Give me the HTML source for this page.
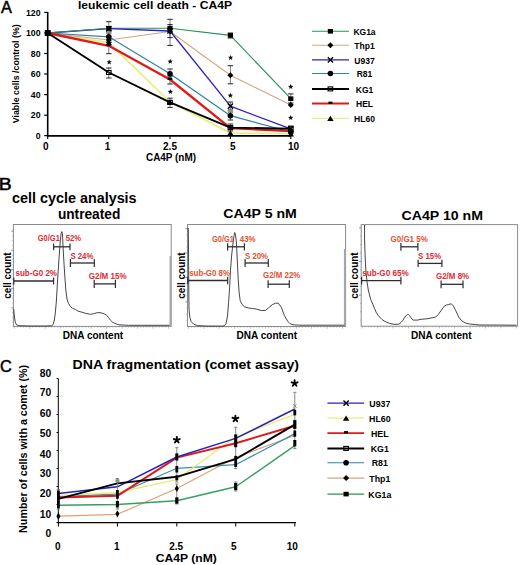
<!DOCTYPE html><html><head><meta charset="utf-8"><style>html,body{margin:0;padding:0;background:#fff;width:520px;height:565px;overflow:hidden}svg{display:block}text{font-family:"Liberation Sans",sans-serif}</style></head><body>
<svg width="520" height="565" viewBox="0 0 520 565">
<rect width="520" height="565" fill="#fff"/>
<text x="1.1" y="12.6" font-size="16.3" text-anchor="start" fill="#000" font-weight="normal" stroke="#000" stroke-width="0.5">A</text>
<text x="78" y="9" font-size="11" text-anchor="start" fill="#000" font-weight="bold" textLength="154" lengthAdjust="spacingAndGlyphs" >leukemic cell death - CA4P</text>
<line x1="47.7" y1="12" x2="47.7" y2="136.8" stroke="#000" stroke-width="1.6" />
<line x1="47" y1="135.9" x2="291" y2="135.9" stroke="#000" stroke-width="1.6" />
<line x1="44.2" y1="12.4" x2="47.7" y2="12.4" stroke="#000" stroke-width="1.2" />
<text x="40.5" y="15.5" font-size="9.8" text-anchor="end" fill="#000" font-weight="bold" textLength="14.55" lengthAdjust="spacingAndGlyphs" >120</text>
<line x1="44.2" y1="33" x2="47.7" y2="33" stroke="#000" stroke-width="1.2" />
<text x="40.5" y="36.1" font-size="9.8" text-anchor="end" fill="#000" font-weight="bold" textLength="14.55" lengthAdjust="spacingAndGlyphs" >100</text>
<line x1="44.2" y1="53.5" x2="47.7" y2="53.5" stroke="#000" stroke-width="1.2" />
<text x="40.5" y="56.6" font-size="9.8" text-anchor="end" fill="#000" font-weight="bold" textLength="9.7" lengthAdjust="spacingAndGlyphs" >80</text>
<line x1="44.2" y1="74" x2="47.7" y2="74" stroke="#000" stroke-width="1.2" />
<text x="40.5" y="77.1" font-size="9.8" text-anchor="end" fill="#000" font-weight="bold" textLength="9.7" lengthAdjust="spacingAndGlyphs" >60</text>
<line x1="44.2" y1="94.6" x2="47.7" y2="94.6" stroke="#000" stroke-width="1.2" />
<text x="40.5" y="97.69999999999999" font-size="9.8" text-anchor="end" fill="#000" font-weight="bold" textLength="9.7" lengthAdjust="spacingAndGlyphs" >40</text>
<line x1="44.2" y1="115.2" x2="47.7" y2="115.2" stroke="#000" stroke-width="1.2" />
<text x="40.5" y="118.3" font-size="9.8" text-anchor="end" fill="#000" font-weight="bold" textLength="9.7" lengthAdjust="spacingAndGlyphs" >20</text>
<line x1="44.2" y1="135.6" x2="47.7" y2="135.6" stroke="#000" stroke-width="1.2" />
<text x="40.5" y="138.7" font-size="9.8" text-anchor="end" fill="#000" font-weight="bold" textLength="4.85" lengthAdjust="spacingAndGlyphs" >0</text>
<line x1="47.7" y1="136.2" x2="47.7" y2="139" stroke="#000" stroke-width="1.1" />
<line x1="108.8" y1="136.2" x2="108.8" y2="139" stroke="#000" stroke-width="1.1" />
<line x1="170.0" y1="136.2" x2="170.0" y2="139" stroke="#000" stroke-width="1.1" />
<line x1="230.4" y1="136.2" x2="230.4" y2="139" stroke="#000" stroke-width="1.1" />
<line x1="290.8" y1="136.2" x2="290.8" y2="139" stroke="#000" stroke-width="1.1" />
<text x="45.7" y="149.6" font-size="10" text-anchor="middle" fill="#000" font-weight="bold" >0</text>
<text x="107.6" y="149.6" font-size="10" text-anchor="middle" fill="#000" font-weight="bold" >1</text>
<text x="170" y="149.6" font-size="10" text-anchor="middle" fill="#000" font-weight="bold" >2.5</text>
<text x="232.7" y="149.6" font-size="10" text-anchor="middle" fill="#000" font-weight="bold" >5</text>
<text x="293.5" y="149.6" font-size="10" text-anchor="middle" fill="#000" font-weight="bold" >10</text>
<text x="171" y="160.5" font-size="10" text-anchor="middle" fill="#000" font-weight="bold" textLength="50" lengthAdjust="spacingAndGlyphs" >CA4P (nM)</text>
<text transform="translate(18.8,73.8) rotate(-90)" x="0" y="0" font-size="8.3" text-anchor="middle" fill="#000" font-weight="bold" textLength="99" lengthAdjust="spacingAndGlyphs">Viable cells /control (%)</text>
<polyline points="47.7,33.0 108.8,42.6 170.0,102.0 230.4,133.0 290.8,133.8" fill="none" stroke="#e8ee78" stroke-width="1.6" stroke-linejoin="round"/>
<polyline points="47.7,33.0 108.8,40.0 170.0,31.5 230.4,75.3 290.8,105.0" fill="none" stroke="#d2a682" stroke-width="1.1" stroke-linejoin="round"/>
<polyline points="47.7,33.0 108.8,28.6" fill="none" stroke="#2a22b8" stroke-width="1.3" stroke-linejoin="round"/>
<polyline points="47.7,33.0 108.8,28.3 170.0,28.2 230.4,35.4 290.8,98.7" fill="none" stroke="#2a8f58" stroke-width="1.1" stroke-linejoin="round"/>
<polyline points="108.8,28.6 170.0,31.0 230.4,106.2 290.8,128.9" fill="none" stroke="#2a22b8" stroke-width="1.3" stroke-linejoin="round"/>
<polyline points="47.7,33.0 108.8,36.8 170.0,73.8 230.4,115.7 290.8,132.0" fill="none" stroke="#2f82a0" stroke-width="1.2" stroke-linejoin="round"/>
<polyline points="47.7,33.0 108.8,45.8 170.0,79.5 230.4,128.2 290.8,131.2" fill="none" stroke="#e01a1a" stroke-width="2.3" stroke-linejoin="round"/>
<polyline points="47.7,33.0 108.8,72.5 170.0,102.4 230.4,127.6 290.8,128.8" fill="none" stroke="#000" stroke-width="1.9" stroke-linejoin="round"/>
<line x1="47.7" y1="30.5" x2="47.7" y2="35.5" stroke="#555" stroke-width="0.8" />
<line x1="45.0" y1="30.5" x2="50.400000000000006" y2="30.5" stroke="#222" stroke-width="1.0" />
<line x1="45.0" y1="35.5" x2="50.400000000000006" y2="35.5" stroke="#222" stroke-width="1.0" />
<line x1="108.8" y1="21.7" x2="108.8" y2="31" stroke="#555" stroke-width="0.8" />
<line x1="106.1" y1="21.7" x2="111.5" y2="21.7" stroke="#222" stroke-width="1.0" />
<line x1="106.1" y1="31" x2="111.5" y2="31" stroke="#222" stroke-width="1.0" />
<line x1="108.8" y1="33" x2="108.8" y2="42" stroke="#555" stroke-width="0.8" />
<line x1="106.1" y1="33" x2="111.5" y2="33" stroke="#222" stroke-width="1.0" />
<line x1="106.1" y1="42" x2="111.5" y2="42" stroke="#222" stroke-width="1.0" />
<line x1="108.8" y1="42.5" x2="108.8" y2="53.7" stroke="#555" stroke-width="0.8" />
<line x1="106.1" y1="42.5" x2="111.5" y2="42.5" stroke="#222" stroke-width="1.0" />
<line x1="106.1" y1="53.7" x2="111.5" y2="53.7" stroke="#222" stroke-width="1.0" />
<line x1="108.8" y1="68" x2="108.8" y2="78" stroke="#555" stroke-width="0.8" />
<line x1="106.1" y1="68" x2="111.5" y2="68" stroke="#222" stroke-width="1.0" />
<line x1="106.1" y1="78" x2="111.5" y2="78" stroke="#222" stroke-width="1.0" />
<line x1="170.0" y1="19.3" x2="170.0" y2="45.4" stroke="#555" stroke-width="0.8" />
<line x1="167.3" y1="19.3" x2="172.7" y2="19.3" stroke="#222" stroke-width="1.0" />
<line x1="167.3" y1="45.4" x2="172.7" y2="45.4" stroke="#222" stroke-width="1.0" />
<line x1="170.0" y1="24.6" x2="170.0" y2="37.6" stroke="#555" stroke-width="0.8" />
<line x1="167.3" y1="24.6" x2="172.7" y2="24.6" stroke="#222" stroke-width="1.0" />
<line x1="167.3" y1="37.6" x2="172.7" y2="37.6" stroke="#222" stroke-width="1.0" />
<line x1="170.0" y1="69" x2="170.0" y2="79.3" stroke="#555" stroke-width="0.8" />
<line x1="167.3" y1="69" x2="172.7" y2="69" stroke="#222" stroke-width="1.0" />
<line x1="167.3" y1="79.3" x2="172.7" y2="79.3" stroke="#222" stroke-width="1.0" />
<line x1="170.0" y1="76" x2="170.0" y2="84" stroke="#555" stroke-width="0.8" />
<line x1="167.3" y1="76" x2="172.7" y2="76" stroke="#222" stroke-width="1.0" />
<line x1="167.3" y1="84" x2="172.7" y2="84" stroke="#222" stroke-width="1.0" />
<line x1="170.0" y1="98.2" x2="170.0" y2="107.4" stroke="#555" stroke-width="0.8" />
<line x1="167.3" y1="98.2" x2="172.7" y2="98.2" stroke="#222" stroke-width="1.0" />
<line x1="167.3" y1="107.4" x2="172.7" y2="107.4" stroke="#222" stroke-width="1.0" />
<line x1="230.4" y1="33" x2="230.4" y2="38" stroke="#555" stroke-width="0.8" />
<line x1="227.70000000000002" y1="33" x2="233.1" y2="33" stroke="#222" stroke-width="1.0" />
<line x1="227.70000000000002" y1="38" x2="233.1" y2="38" stroke="#222" stroke-width="1.0" />
<line x1="230.4" y1="65.7" x2="230.4" y2="83.8" stroke="#555" stroke-width="0.8" />
<line x1="227.70000000000002" y1="65.7" x2="233.1" y2="65.7" stroke="#222" stroke-width="1.0" />
<line x1="227.70000000000002" y1="83.8" x2="233.1" y2="83.8" stroke="#222" stroke-width="1.0" />
<line x1="230.4" y1="102" x2="230.4" y2="110" stroke="#555" stroke-width="0.8" />
<line x1="227.70000000000002" y1="102" x2="233.1" y2="102" stroke="#222" stroke-width="1.0" />
<line x1="227.70000000000002" y1="110" x2="233.1" y2="110" stroke="#222" stroke-width="1.0" />
<line x1="230.4" y1="112" x2="230.4" y2="120" stroke="#555" stroke-width="0.8" />
<line x1="227.70000000000002" y1="112" x2="233.1" y2="112" stroke="#222" stroke-width="1.0" />
<line x1="227.70000000000002" y1="120" x2="233.1" y2="120" stroke="#222" stroke-width="1.0" />
<line x1="230.4" y1="124" x2="230.4" y2="131" stroke="#555" stroke-width="0.8" />
<line x1="227.70000000000002" y1="124" x2="233.1" y2="124" stroke="#222" stroke-width="1.0" />
<line x1="227.70000000000002" y1="131" x2="233.1" y2="131" stroke="#222" stroke-width="1.0" />
<line x1="290.8" y1="93.9" x2="290.8" y2="103" stroke="#555" stroke-width="0.8" />
<line x1="288.1" y1="93.9" x2="293.5" y2="93.9" stroke="#222" stroke-width="1.0" />
<line x1="288.1" y1="103" x2="293.5" y2="103" stroke="#222" stroke-width="1.0" />
<line x1="290.8" y1="126" x2="290.8" y2="133" stroke="#555" stroke-width="0.8" />
<line x1="288.1" y1="126" x2="293.5" y2="126" stroke="#222" stroke-width="1.0" />
<line x1="288.1" y1="133" x2="293.5" y2="133" stroke="#222" stroke-width="1.0" />
<rect x="45.1" y="30.7" width="5.2" height="4.6" fill="#000"/>
<rect x="106.2" y="26.0" width="5.2" height="4.6" fill="#000"/>
<rect x="167.4" y="25.9" width="5.2" height="4.6" fill="#000"/>
<rect x="227.8" y="33.1" width="5.2" height="4.6" fill="#000"/>
<rect x="288.2" y="96.4" width="5.2" height="4.6" fill="#000"/>
<path d="M44.7,33.0 L47.7,30.0 L50.7,33.0 L47.7,36.0Z" fill="#000"/>
<path d="M105.8,40.0 L108.8,37.0 L111.8,40.0 L108.8,43.0Z" fill="#000"/>
<path d="M167.0,31.5 L170.0,28.5 L173.0,31.5 L170.0,34.5Z" fill="#000"/>
<path d="M227.4,75.3 L230.4,72.3 L233.4,75.3 L230.4,78.3Z" fill="#000"/>
<path d="M287.8,105.0 L290.8,102.0 L293.8,105.0 L290.8,108.0Z" fill="#000"/>
<path d="M45.1,30.4 L50.3,35.6 M50.3,30.4 L45.1,35.6" stroke="#000" stroke-width="1.4" fill="none"/>
<path d="M106.2,26.0 L111.4,31.2 M111.4,26.0 L106.2,31.2" stroke="#000" stroke-width="1.4" fill="none"/>
<path d="M167.4,28.4 L172.6,33.6 M172.6,28.4 L167.4,33.6" stroke="#000" stroke-width="1.4" fill="none"/>
<path d="M227.8,103.6 L233.0,108.8 M233.0,103.6 L227.8,108.8" stroke="#000" stroke-width="1.4" fill="none"/>
<path d="M288.2,126.3 L293.4,131.5 M293.4,126.3 L288.2,131.5" stroke="#000" stroke-width="1.4" fill="none"/>
<circle cx="47.7" cy="33.0" r="2.8" fill="#000"/>
<circle cx="108.8" cy="36.8" r="2.8" fill="#000"/>
<circle cx="170.0" cy="73.8" r="2.8" fill="#000"/>
<circle cx="230.4" cy="115.7" r="2.8" fill="#000"/>
<circle cx="290.8" cy="132.0" r="2.8" fill="#000"/>
<rect x="45.4" y="31.0" width="4.6" height="4.0" fill="none" stroke="#000" stroke-width="1.1"/>
<rect x="106.5" y="70.5" width="4.6" height="4.0" fill="none" stroke="#000" stroke-width="1.1"/>
<rect x="167.7" y="100.4" width="4.6" height="4.0" fill="none" stroke="#000" stroke-width="1.1"/>
<rect x="228.1" y="125.6" width="4.6" height="4.0" fill="none" stroke="#000" stroke-width="1.1"/>
<rect x="288.5" y="126.8" width="4.6" height="4.0" fill="none" stroke="#000" stroke-width="1.1"/>
<rect x="45.7" y="31.0" width="4.0" height="2.4" fill="#000"/>
<rect x="106.8" y="43.8" width="4.0" height="2.4" fill="#000"/>
<rect x="168.0" y="77.5" width="4.0" height="2.4" fill="#000"/>
<rect x="228.4" y="126.2" width="4.0" height="2.4" fill="#000"/>
<rect x="288.8" y="129.2" width="4.0" height="2.4" fill="#000"/>
<path d="M44.5,35.6 L47.7,30.4 L50.9,35.6Z" fill="#000"/>
<path d="M105.6,45.2 L108.8,40.0 L112.0,45.2Z" fill="#000"/>
<path d="M166.8,104.6 L170.0,99.4 L173.2,104.6Z" fill="#000"/>
<path d="M227.2,135.6 L230.4,130.4 L233.6,135.6Z" fill="#000"/>
<path d="M287.6,136.4 L290.8,131.2 L294.0,136.4Z" fill="#000"/>
<polygon points="109.20,59.40 109.94,61.18 111.86,61.33 110.40,62.59 110.85,64.47 109.20,63.46 107.55,64.47 108.00,62.59 106.54,61.33 108.46,61.18" fill="#111"/>
<polygon points="170.20,58.80 170.94,60.58 172.86,60.73 171.40,61.99 171.85,63.87 170.20,62.86 168.55,63.87 169.00,61.99 167.54,60.73 169.46,60.58" fill="#111"/>
<polygon points="170.40,89.00 171.14,90.78 173.06,90.93 171.60,92.19 172.05,94.07 170.40,93.06 168.75,94.07 169.20,92.19 167.74,90.93 169.66,90.78" fill="#111"/>
<polygon points="230.60,54.90 231.34,56.68 233.26,56.83 231.80,58.09 232.25,59.97 230.60,58.96 228.95,59.97 229.40,58.09 227.94,56.83 229.86,56.68" fill="#111"/>
<polygon points="230.40,92.70 231.14,94.48 233.06,94.63 231.60,95.89 232.05,97.77 230.40,96.76 228.75,97.77 229.20,95.89 227.74,94.63 229.66,94.48" fill="#111"/>
<polygon points="290.70,84.00 291.44,85.78 293.36,85.93 291.90,87.19 292.35,89.07 290.70,88.06 289.05,89.07 289.50,87.19 288.04,85.93 289.96,85.78" fill="#111"/>
<polygon points="290.70,115.00 291.44,116.78 293.36,116.93 291.90,118.19 292.35,120.07 290.70,119.06 289.05,120.07 289.50,118.19 288.04,116.93 289.96,116.78" fill="#111"/>
<line x1="312" y1="31.3" x2="349" y2="31.3" stroke="#2a8f58" stroke-width="1.1" />
<rect x="327.8" y="29.0" width="5.2" height="4.6" fill="#000"/>
<text x="364.5" y="35.0" font-size="8.5" text-anchor="middle" fill="#000" font-weight="bold" >KG1a</text>
<line x1="312" y1="45.3" x2="349" y2="45.3" stroke="#d2a682" stroke-width="1.1" />
<path d="M327.4,45.3 L330.4,42.3 L333.4,45.3 L330.4,48.3Z" fill="#000"/>
<text x="364.5" y="49.0" font-size="8.5" text-anchor="middle" fill="#000" font-weight="bold" >Thp1</text>
<line x1="312" y1="59.9" x2="349" y2="59.9" stroke="#2a22b8" stroke-width="1.3" />
<path d="M327.8,57.3 L333.0,62.5 M333.0,57.3 L327.8,62.5" stroke="#000" stroke-width="1.4" fill="none"/>
<text x="364.5" y="63.6" font-size="8.5" text-anchor="middle" fill="#000" font-weight="bold" >U937</text>
<line x1="312" y1="73.5" x2="349" y2="73.5" stroke="#2f82a0" stroke-width="1.1" />
<circle cx="330.4" cy="73.5" r="2.8" fill="#000"/>
<text x="364.5" y="77.2" font-size="8.5" text-anchor="middle" fill="#000" font-weight="bold" >R81</text>
<line x1="312" y1="88.9" x2="349" y2="88.9" stroke="#000" stroke-width="2.0" />
<rect x="328.1" y="86.9" width="4.6" height="4.0" fill="none" stroke="#000" stroke-width="1.1"/>
<text x="364.5" y="92.60000000000001" font-size="8.5" text-anchor="middle" fill="#000" font-weight="bold" >KG1</text>
<line x1="312" y1="103.6" x2="349" y2="103.6" stroke="#e01a1a" stroke-width="2.0" />
<rect x="328.4" y="101.6" width="4.0" height="2.4" fill="#000"/>
<text x="364.5" y="107.3" font-size="8.5" text-anchor="middle" fill="#000" font-weight="bold" >HEL</text>
<line x1="312" y1="118.4" x2="349" y2="118.4" stroke="#e8ee78" stroke-width="1.2" />
<path d="M327.2,121.0 L330.4,115.8 L333.6,121.0Z" fill="#000"/>
<text x="364.5" y="122.10000000000001" font-size="8.5" text-anchor="middle" fill="#000" font-weight="bold" >HL60</text>
<text x="-1.2" y="189.8" font-size="16.3" text-anchor="start" fill="#000" font-weight="normal" textLength="12.9" lengthAdjust="spacingAndGlyphs" stroke="#000" stroke-width="0.5">B</text>
<text x="12.1" y="203.3" font-size="14" text-anchor="start" fill="#000" font-weight="bold" textLength="124.5" lengthAdjust="spacingAndGlyphs" >cell cycle analysis</text>
<text x="57.9" y="218.9" font-size="14" text-anchor="start" fill="#000" font-weight="bold" textLength="62.4" lengthAdjust="spacingAndGlyphs" >untreated</text>
<text x="223.3" y="218.2" font-size="13.3" text-anchor="start" fill="#000" font-weight="bold" textLength="73.5" lengthAdjust="spacingAndGlyphs" >CA4P 5 nM</text>
<text x="401.5" y="220.2" font-size="12.8" text-anchor="start" fill="#000" font-weight="bold" textLength="81.5" lengthAdjust="spacingAndGlyphs" >CA4P 10 nM</text>
<rect x="13.4" y="224.5" width="157.79999999999998" height="101.89999999999998" fill="none" stroke="#8a8a8a" stroke-width="1"/>
<line x1="170.39999999999998" y1="256" x2="170.39999999999998" y2="326.4" stroke="#a8a8a8" stroke-width="1.8" />
<line x1="11.2" y1="231.1" x2="13.4" y2="231.1" stroke="#777" stroke-width="0.8" />
<line x1="12.4" y1="235.9" x2="13.4" y2="235.9" stroke="#999" stroke-width="0.8" />
<line x1="12.4" y1="240.70000000000002" x2="13.4" y2="240.70000000000002" stroke="#999" stroke-width="0.8" />
<line x1="12.4" y1="245.50000000000003" x2="13.4" y2="245.50000000000003" stroke="#999" stroke-width="0.8" />
<line x1="11.2" y1="250.30000000000004" x2="13.4" y2="250.30000000000004" stroke="#777" stroke-width="0.8" />
<line x1="12.4" y1="255.10000000000005" x2="13.4" y2="255.10000000000005" stroke="#999" stroke-width="0.8" />
<line x1="12.4" y1="259.90000000000003" x2="13.4" y2="259.90000000000003" stroke="#999" stroke-width="0.8" />
<line x1="12.4" y1="264.70000000000005" x2="13.4" y2="264.70000000000005" stroke="#999" stroke-width="0.8" />
<line x1="11.2" y1="269.50000000000006" x2="13.4" y2="269.50000000000006" stroke="#777" stroke-width="0.8" />
<line x1="12.4" y1="274.30000000000007" x2="13.4" y2="274.30000000000007" stroke="#999" stroke-width="0.8" />
<line x1="12.4" y1="279.1000000000001" x2="13.4" y2="279.1000000000001" stroke="#999" stroke-width="0.8" />
<line x1="12.4" y1="283.9000000000001" x2="13.4" y2="283.9000000000001" stroke="#999" stroke-width="0.8" />
<line x1="11.2" y1="288.7000000000001" x2="13.4" y2="288.7000000000001" stroke="#777" stroke-width="0.8" />
<line x1="12.4" y1="293.5000000000001" x2="13.4" y2="293.5000000000001" stroke="#999" stroke-width="0.8" />
<line x1="12.4" y1="298.3000000000001" x2="13.4" y2="298.3000000000001" stroke="#999" stroke-width="0.8" />
<line x1="12.4" y1="303.10000000000014" x2="13.4" y2="303.10000000000014" stroke="#999" stroke-width="0.8" />
<line x1="11.2" y1="307.90000000000015" x2="13.4" y2="307.90000000000015" stroke="#777" stroke-width="0.8" />
<line x1="12.4" y1="312.70000000000016" x2="13.4" y2="312.70000000000016" stroke="#999" stroke-width="0.8" />
<line x1="12.4" y1="317.50000000000017" x2="13.4" y2="317.50000000000017" stroke="#999" stroke-width="0.8" />
<line x1="12.4" y1="322.3000000000002" x2="13.4" y2="322.3000000000002" stroke="#999" stroke-width="0.8" />
<line x1="14.4" y1="326.4" x2="14.4" y2="328.59999999999997" stroke="#999" stroke-width="0.7" />
<line x1="17.48" y1="326.4" x2="17.48" y2="327.59999999999997" stroke="#999" stroke-width="0.7" />
<line x1="20.560000000000002" y1="326.4" x2="20.560000000000002" y2="327.59999999999997" stroke="#999" stroke-width="0.7" />
<line x1="23.64" y1="326.4" x2="23.64" y2="327.59999999999997" stroke="#999" stroke-width="0.7" />
<line x1="26.72" y1="326.4" x2="26.72" y2="327.59999999999997" stroke="#999" stroke-width="0.7" />
<line x1="29.799999999999997" y1="326.4" x2="29.799999999999997" y2="328.59999999999997" stroke="#999" stroke-width="0.7" />
<line x1="32.879999999999995" y1="326.4" x2="32.879999999999995" y2="327.59999999999997" stroke="#999" stroke-width="0.7" />
<line x1="35.959999999999994" y1="326.4" x2="35.959999999999994" y2="327.59999999999997" stroke="#999" stroke-width="0.7" />
<line x1="39.03999999999999" y1="326.4" x2="39.03999999999999" y2="327.59999999999997" stroke="#999" stroke-width="0.7" />
<line x1="42.11999999999999" y1="326.4" x2="42.11999999999999" y2="327.59999999999997" stroke="#999" stroke-width="0.7" />
<line x1="45.19999999999999" y1="326.4" x2="45.19999999999999" y2="328.59999999999997" stroke="#999" stroke-width="0.7" />
<line x1="48.27999999999999" y1="326.4" x2="48.27999999999999" y2="327.59999999999997" stroke="#999" stroke-width="0.7" />
<line x1="51.359999999999985" y1="326.4" x2="51.359999999999985" y2="327.59999999999997" stroke="#999" stroke-width="0.7" />
<line x1="54.43999999999998" y1="326.4" x2="54.43999999999998" y2="327.59999999999997" stroke="#999" stroke-width="0.7" />
<line x1="57.51999999999998" y1="326.4" x2="57.51999999999998" y2="327.59999999999997" stroke="#999" stroke-width="0.7" />
<line x1="60.59999999999998" y1="326.4" x2="60.59999999999998" y2="328.59999999999997" stroke="#999" stroke-width="0.7" />
<line x1="63.67999999999998" y1="326.4" x2="63.67999999999998" y2="327.59999999999997" stroke="#999" stroke-width="0.7" />
<line x1="66.75999999999998" y1="326.4" x2="66.75999999999998" y2="327.59999999999997" stroke="#999" stroke-width="0.7" />
<line x1="69.83999999999997" y1="326.4" x2="69.83999999999997" y2="327.59999999999997" stroke="#999" stroke-width="0.7" />
<line x1="72.91999999999997" y1="326.4" x2="72.91999999999997" y2="327.59999999999997" stroke="#999" stroke-width="0.7" />
<line x1="75.99999999999997" y1="326.4" x2="75.99999999999997" y2="328.59999999999997" stroke="#999" stroke-width="0.7" />
<line x1="79.07999999999997" y1="326.4" x2="79.07999999999997" y2="327.59999999999997" stroke="#999" stroke-width="0.7" />
<line x1="82.15999999999997" y1="326.4" x2="82.15999999999997" y2="327.59999999999997" stroke="#999" stroke-width="0.7" />
<line x1="85.23999999999997" y1="326.4" x2="85.23999999999997" y2="327.59999999999997" stroke="#999" stroke-width="0.7" />
<line x1="88.31999999999996" y1="326.4" x2="88.31999999999996" y2="327.59999999999997" stroke="#999" stroke-width="0.7" />
<line x1="91.39999999999996" y1="326.4" x2="91.39999999999996" y2="328.59999999999997" stroke="#999" stroke-width="0.7" />
<line x1="94.47999999999996" y1="326.4" x2="94.47999999999996" y2="327.59999999999997" stroke="#999" stroke-width="0.7" />
<line x1="97.55999999999996" y1="326.4" x2="97.55999999999996" y2="327.59999999999997" stroke="#999" stroke-width="0.7" />
<line x1="100.63999999999996" y1="326.4" x2="100.63999999999996" y2="327.59999999999997" stroke="#999" stroke-width="0.7" />
<line x1="103.71999999999996" y1="326.4" x2="103.71999999999996" y2="327.59999999999997" stroke="#999" stroke-width="0.7" />
<line x1="106.79999999999995" y1="326.4" x2="106.79999999999995" y2="328.59999999999997" stroke="#999" stroke-width="0.7" />
<line x1="109.87999999999995" y1="326.4" x2="109.87999999999995" y2="327.59999999999997" stroke="#999" stroke-width="0.7" />
<line x1="112.95999999999995" y1="326.4" x2="112.95999999999995" y2="327.59999999999997" stroke="#999" stroke-width="0.7" />
<line x1="116.03999999999995" y1="326.4" x2="116.03999999999995" y2="327.59999999999997" stroke="#999" stroke-width="0.7" />
<line x1="119.11999999999995" y1="326.4" x2="119.11999999999995" y2="327.59999999999997" stroke="#999" stroke-width="0.7" />
<line x1="122.19999999999995" y1="326.4" x2="122.19999999999995" y2="328.59999999999997" stroke="#999" stroke-width="0.7" />
<line x1="125.27999999999994" y1="326.4" x2="125.27999999999994" y2="327.59999999999997" stroke="#999" stroke-width="0.7" />
<line x1="128.35999999999996" y1="326.4" x2="128.35999999999996" y2="327.59999999999997" stroke="#999" stroke-width="0.7" />
<line x1="131.43999999999997" y1="326.4" x2="131.43999999999997" y2="327.59999999999997" stroke="#999" stroke-width="0.7" />
<line x1="134.51999999999998" y1="326.4" x2="134.51999999999998" y2="327.59999999999997" stroke="#999" stroke-width="0.7" />
<line x1="137.6" y1="326.4" x2="137.6" y2="328.59999999999997" stroke="#999" stroke-width="0.7" />
<line x1="140.68" y1="326.4" x2="140.68" y2="327.59999999999997" stroke="#999" stroke-width="0.7" />
<line x1="143.76000000000002" y1="326.4" x2="143.76000000000002" y2="327.59999999999997" stroke="#999" stroke-width="0.7" />
<line x1="146.84000000000003" y1="326.4" x2="146.84000000000003" y2="327.59999999999997" stroke="#999" stroke-width="0.7" />
<line x1="149.92000000000004" y1="326.4" x2="149.92000000000004" y2="327.59999999999997" stroke="#999" stroke-width="0.7" />
<line x1="153.00000000000006" y1="326.4" x2="153.00000000000006" y2="328.59999999999997" stroke="#999" stroke-width="0.7" />
<line x1="156.08000000000007" y1="326.4" x2="156.08000000000007" y2="327.59999999999997" stroke="#999" stroke-width="0.7" />
<line x1="159.16000000000008" y1="326.4" x2="159.16000000000008" y2="327.59999999999997" stroke="#999" stroke-width="0.7" />
<line x1="162.2400000000001" y1="326.4" x2="162.2400000000001" y2="327.59999999999997" stroke="#999" stroke-width="0.7" />
<line x1="165.3200000000001" y1="326.4" x2="165.3200000000001" y2="327.59999999999997" stroke="#999" stroke-width="0.7" />
<line x1="168.40000000000012" y1="326.4" x2="168.40000000000012" y2="328.59999999999997" stroke="#999" stroke-width="0.7" />
<path d="M13.7,309.0 L14.3,316.0 L15.2,322.0 L16.5,324.8 L19.0,325.7 L30.0,326.0 L45.0,326.0 L51.5,325.8 L53.0,324.8 L54.3,320.0 L55.2,314.0 L56.3,302.0 L57.6,280.0 L58.9,260.0 L60.2,242.0 L61.1,233.5 L61.8,231.6 L62.5,234.0 L63.2,250.0 L64.4,270.0 L65.8,290.0 L67.0,299.0 L68.5,303.5 L70.4,306.5 L72.5,308.3 L75.6,309.6 L78.2,311.2 L81.9,312.2 L85.9,313.4 L90.4,314.3 L93.5,313.8 L96.7,312.8 L100.0,312.6 L102.0,313.2 L104.5,314.0 L106.3,314.9 L108.5,317.5 L110.5,320.2 L112.7,322.3 L114.7,323.4 L118.9,324.8 L128.5,325.3 L169.5,325.3" fill="none" stroke="#3c3c3c" stroke-width="0.95" stroke-linejoin="round"/>
<text x="37.8" y="241.3" font-size="8.6" text-anchor="start" fill="#dc2a36" font-weight="bold" textLength="22.0" lengthAdjust="spacingAndGlyphs" >G0/G1</text>
<text x="65.8" y="241.3" font-size="8.6" text-anchor="start" fill="#dc2a36" font-weight="bold" textLength="15.4" lengthAdjust="spacingAndGlyphs" >52%</text>
<line x1="53.6" y1="246.8" x2="70.0" y2="246.8" stroke="#2e2e2e" stroke-width="1.3" />
<line x1="53.6" y1="243.4" x2="53.6" y2="250.20000000000002" stroke="#2e2e2e" stroke-width="1.2" />
<line x1="70.0" y1="243.4" x2="70.0" y2="250.20000000000002" stroke="#2e2e2e" stroke-width="1.2" />
<text x="70.4" y="258.7" font-size="8.6" text-anchor="start" fill="#dc2a36" font-weight="bold" textLength="22.9" lengthAdjust="spacingAndGlyphs" >S 24%</text>
<line x1="70.4" y1="263.0" x2="94.3" y2="263.0" stroke="#2e2e2e" stroke-width="1.3" />
<line x1="70.4" y1="259.0" x2="70.4" y2="267.0" stroke="#2e2e2e" stroke-width="1.2" />
<line x1="94.3" y1="259.0" x2="94.3" y2="267.0" stroke="#2e2e2e" stroke-width="1.2" />
<text x="15.5" y="275.8" font-size="8.6" text-anchor="start" fill="#dc2a36" font-weight="bold" textLength="41.5" lengthAdjust="spacingAndGlyphs" >sub-G0 2%</text>
<line x1="13.8" y1="281.0" x2="53.6" y2="281.0" stroke="#2e2e2e" stroke-width="1.3" />
<line x1="13.8" y1="277.4" x2="13.8" y2="284.6" stroke="#2e2e2e" stroke-width="1.2" />
<line x1="53.6" y1="277.4" x2="53.6" y2="284.6" stroke="#2e2e2e" stroke-width="1.2" />
<text x="88.7" y="278.5" font-size="8.6" text-anchor="start" fill="#dc2a36" font-weight="bold" textLength="37.9" lengthAdjust="spacingAndGlyphs" >G2/M 15%</text>
<line x1="94.2" y1="283.9" x2="115.4" y2="283.9" stroke="#2e2e2e" stroke-width="1.3" />
<line x1="94.2" y1="279.79999999999995" x2="94.2" y2="288.0" stroke="#2e2e2e" stroke-width="1.2" />
<line x1="115.4" y1="279.79999999999995" x2="115.4" y2="288.0" stroke="#2e2e2e" stroke-width="1.2" />
<rect x="187.5" y="224.5" width="158.10000000000002" height="102.0" fill="none" stroke="#8a8a8a" stroke-width="1"/>
<line x1="344.8" y1="249" x2="344.8" y2="326.5" stroke="#a8a8a8" stroke-width="1.8" />
<line x1="185.3" y1="228.7" x2="187.5" y2="228.7" stroke="#777" stroke-width="0.8" />
<line x1="186.5" y1="234.79999999999998" x2="187.5" y2="234.79999999999998" stroke="#999" stroke-width="0.8" />
<line x1="186.5" y1="240.89999999999998" x2="187.5" y2="240.89999999999998" stroke="#999" stroke-width="0.8" />
<line x1="186.5" y1="246.99999999999997" x2="187.5" y2="246.99999999999997" stroke="#999" stroke-width="0.8" />
<line x1="185.3" y1="253.09999999999997" x2="187.5" y2="253.09999999999997" stroke="#777" stroke-width="0.8" />
<line x1="186.5" y1="259.2" x2="187.5" y2="259.2" stroke="#999" stroke-width="0.8" />
<line x1="186.5" y1="265.3" x2="187.5" y2="265.3" stroke="#999" stroke-width="0.8" />
<line x1="186.5" y1="271.40000000000003" x2="187.5" y2="271.40000000000003" stroke="#999" stroke-width="0.8" />
<line x1="185.3" y1="277.50000000000006" x2="187.5" y2="277.50000000000006" stroke="#777" stroke-width="0.8" />
<line x1="186.5" y1="283.6000000000001" x2="187.5" y2="283.6000000000001" stroke="#999" stroke-width="0.8" />
<line x1="186.5" y1="289.7000000000001" x2="187.5" y2="289.7000000000001" stroke="#999" stroke-width="0.8" />
<line x1="186.5" y1="295.8000000000001" x2="187.5" y2="295.8000000000001" stroke="#999" stroke-width="0.8" />
<line x1="185.3" y1="301.90000000000015" x2="187.5" y2="301.90000000000015" stroke="#777" stroke-width="0.8" />
<line x1="186.5" y1="308.00000000000017" x2="187.5" y2="308.00000000000017" stroke="#999" stroke-width="0.8" />
<line x1="186.5" y1="314.1000000000002" x2="187.5" y2="314.1000000000002" stroke="#999" stroke-width="0.8" />
<line x1="186.5" y1="320.2000000000002" x2="187.5" y2="320.2000000000002" stroke="#999" stroke-width="0.8" />
<line x1="188.5" y1="326.5" x2="188.5" y2="328.7" stroke="#999" stroke-width="0.7" />
<line x1="191.58" y1="326.5" x2="191.58" y2="327.7" stroke="#999" stroke-width="0.7" />
<line x1="194.66000000000003" y1="326.5" x2="194.66000000000003" y2="327.7" stroke="#999" stroke-width="0.7" />
<line x1="197.74000000000004" y1="326.5" x2="197.74000000000004" y2="327.7" stroke="#999" stroke-width="0.7" />
<line x1="200.82000000000005" y1="326.5" x2="200.82000000000005" y2="327.7" stroke="#999" stroke-width="0.7" />
<line x1="203.90000000000006" y1="326.5" x2="203.90000000000006" y2="328.7" stroke="#999" stroke-width="0.7" />
<line x1="206.98000000000008" y1="326.5" x2="206.98000000000008" y2="327.7" stroke="#999" stroke-width="0.7" />
<line x1="210.0600000000001" y1="326.5" x2="210.0600000000001" y2="327.7" stroke="#999" stroke-width="0.7" />
<line x1="213.1400000000001" y1="326.5" x2="213.1400000000001" y2="327.7" stroke="#999" stroke-width="0.7" />
<line x1="216.2200000000001" y1="326.5" x2="216.2200000000001" y2="327.7" stroke="#999" stroke-width="0.7" />
<line x1="219.30000000000013" y1="326.5" x2="219.30000000000013" y2="328.7" stroke="#999" stroke-width="0.7" />
<line x1="222.38000000000014" y1="326.5" x2="222.38000000000014" y2="327.7" stroke="#999" stroke-width="0.7" />
<line x1="225.46000000000015" y1="326.5" x2="225.46000000000015" y2="327.7" stroke="#999" stroke-width="0.7" />
<line x1="228.54000000000016" y1="326.5" x2="228.54000000000016" y2="327.7" stroke="#999" stroke-width="0.7" />
<line x1="231.62000000000018" y1="326.5" x2="231.62000000000018" y2="327.7" stroke="#999" stroke-width="0.7" />
<line x1="234.7000000000002" y1="326.5" x2="234.7000000000002" y2="328.7" stroke="#999" stroke-width="0.7" />
<line x1="237.7800000000002" y1="326.5" x2="237.7800000000002" y2="327.7" stroke="#999" stroke-width="0.7" />
<line x1="240.8600000000002" y1="326.5" x2="240.8600000000002" y2="327.7" stroke="#999" stroke-width="0.7" />
<line x1="243.94000000000023" y1="326.5" x2="243.94000000000023" y2="327.7" stroke="#999" stroke-width="0.7" />
<line x1="247.02000000000024" y1="326.5" x2="247.02000000000024" y2="327.7" stroke="#999" stroke-width="0.7" />
<line x1="250.10000000000025" y1="326.5" x2="250.10000000000025" y2="328.7" stroke="#999" stroke-width="0.7" />
<line x1="253.18000000000026" y1="326.5" x2="253.18000000000026" y2="327.7" stroke="#999" stroke-width="0.7" />
<line x1="256.2600000000003" y1="326.5" x2="256.2600000000003" y2="327.7" stroke="#999" stroke-width="0.7" />
<line x1="259.34000000000026" y1="326.5" x2="259.34000000000026" y2="327.7" stroke="#999" stroke-width="0.7" />
<line x1="262.42000000000024" y1="326.5" x2="262.42000000000024" y2="327.7" stroke="#999" stroke-width="0.7" />
<line x1="265.5000000000002" y1="326.5" x2="265.5000000000002" y2="328.7" stroke="#999" stroke-width="0.7" />
<line x1="268.5800000000002" y1="326.5" x2="268.5800000000002" y2="327.7" stroke="#999" stroke-width="0.7" />
<line x1="271.6600000000002" y1="326.5" x2="271.6600000000002" y2="327.7" stroke="#999" stroke-width="0.7" />
<line x1="274.7400000000002" y1="326.5" x2="274.7400000000002" y2="327.7" stroke="#999" stroke-width="0.7" />
<line x1="277.82000000000016" y1="326.5" x2="277.82000000000016" y2="327.7" stroke="#999" stroke-width="0.7" />
<line x1="280.90000000000015" y1="326.5" x2="280.90000000000015" y2="328.7" stroke="#999" stroke-width="0.7" />
<line x1="283.98000000000013" y1="326.5" x2="283.98000000000013" y2="327.7" stroke="#999" stroke-width="0.7" />
<line x1="287.0600000000001" y1="326.5" x2="287.0600000000001" y2="327.7" stroke="#999" stroke-width="0.7" />
<line x1="290.1400000000001" y1="326.5" x2="290.1400000000001" y2="327.7" stroke="#999" stroke-width="0.7" />
<line x1="293.2200000000001" y1="326.5" x2="293.2200000000001" y2="327.7" stroke="#999" stroke-width="0.7" />
<line x1="296.30000000000007" y1="326.5" x2="296.30000000000007" y2="328.7" stroke="#999" stroke-width="0.7" />
<line x1="299.38000000000005" y1="326.5" x2="299.38000000000005" y2="327.7" stroke="#999" stroke-width="0.7" />
<line x1="302.46000000000004" y1="326.5" x2="302.46000000000004" y2="327.7" stroke="#999" stroke-width="0.7" />
<line x1="305.54" y1="326.5" x2="305.54" y2="327.7" stroke="#999" stroke-width="0.7" />
<line x1="308.62" y1="326.5" x2="308.62" y2="327.7" stroke="#999" stroke-width="0.7" />
<line x1="311.7" y1="326.5" x2="311.7" y2="328.7" stroke="#999" stroke-width="0.7" />
<line x1="314.78" y1="326.5" x2="314.78" y2="327.7" stroke="#999" stroke-width="0.7" />
<line x1="317.85999999999996" y1="326.5" x2="317.85999999999996" y2="327.7" stroke="#999" stroke-width="0.7" />
<line x1="320.93999999999994" y1="326.5" x2="320.93999999999994" y2="327.7" stroke="#999" stroke-width="0.7" />
<line x1="324.0199999999999" y1="326.5" x2="324.0199999999999" y2="327.7" stroke="#999" stroke-width="0.7" />
<line x1="327.0999999999999" y1="326.5" x2="327.0999999999999" y2="328.7" stroke="#999" stroke-width="0.7" />
<line x1="330.1799999999999" y1="326.5" x2="330.1799999999999" y2="327.7" stroke="#999" stroke-width="0.7" />
<line x1="333.2599999999999" y1="326.5" x2="333.2599999999999" y2="327.7" stroke="#999" stroke-width="0.7" />
<line x1="336.33999999999986" y1="326.5" x2="336.33999999999986" y2="327.7" stroke="#999" stroke-width="0.7" />
<line x1="339.41999999999985" y1="326.5" x2="339.41999999999985" y2="327.7" stroke="#999" stroke-width="0.7" />
<line x1="342.49999999999983" y1="326.5" x2="342.49999999999983" y2="328.7" stroke="#999" stroke-width="0.7" />
<path d="M188.3,228.0 L188.5,250.0 L188.7,280.0 L188.9,300.0 L189.0,309.2 L189.8,317.2 L191.1,321.6 L193.7,324.2 L197.3,325.6 L205.0,326.0 L223.0,326.1 L224.5,325.5 L226.1,323.4 L227.5,316.0 L228.6,302.3 L229.6,288.0 L230.5,269.8 L231.7,255.0 L232.8,245.0 L233.8,237.0 L234.7,232.5 L235.5,235.0 L236.3,241.1 L237.2,258.0 L238.2,279.4 L239.2,293.0 L240.2,300.5 L242.1,304.5 L244.5,306.8 L248.5,308.0 L252.7,308.5 L256.9,309.2 L261.2,310.5 L265.4,310.5 L268.6,307.8 L272.8,304.3 L275.5,303.3 L278.1,303.1 L281.3,307.2 L284.4,315.6 L287.6,321.1 L290.0,323.6 L293.0,324.8 L299.2,325.2 L344.5,325.2" fill="none" stroke="#3c3c3c" stroke-width="0.95" stroke-linejoin="round"/>
<text x="212.0" y="241.5" font-size="8.6" text-anchor="start" fill="#e5502e" font-weight="bold" textLength="21.9" lengthAdjust="spacingAndGlyphs" >G0/G1</text>
<text x="239.8" y="241.5" font-size="8.6" text-anchor="start" fill="#e5502e" font-weight="bold" textLength="15.8" lengthAdjust="spacingAndGlyphs" >43%</text>
<line x1="227.6" y1="246.8" x2="244.4" y2="246.8" stroke="#2e2e2e" stroke-width="1.3" />
<line x1="227.6" y1="243.20000000000002" x2="227.6" y2="250.4" stroke="#2e2e2e" stroke-width="1.2" />
<line x1="244.4" y1="243.20000000000002" x2="244.4" y2="250.4" stroke="#2e2e2e" stroke-width="1.2" />
<text x="245.1" y="258.7" font-size="8.6" text-anchor="start" fill="#e5502e" font-weight="bold" textLength="22.9" lengthAdjust="spacingAndGlyphs" >S 20%</text>
<line x1="245.1" y1="263.0" x2="268.3" y2="263.0" stroke="#2e2e2e" stroke-width="1.3" />
<line x1="245.1" y1="259.1" x2="245.1" y2="266.9" stroke="#2e2e2e" stroke-width="1.2" />
<line x1="268.3" y1="259.1" x2="268.3" y2="266.9" stroke="#2e2e2e" stroke-width="1.2" />
<text x="189.2" y="275.8" font-size="8.6" text-anchor="start" fill="#e5502e" font-weight="bold" textLength="40.8" lengthAdjust="spacingAndGlyphs" >sub-G0 8%</text>
<line x1="187.8" y1="280.5" x2="227.7" y2="280.5" stroke="#2e2e2e" stroke-width="1.3" />
<line x1="187.8" y1="276.7" x2="187.8" y2="284.3" stroke="#2e2e2e" stroke-width="1.2" />
<line x1="227.7" y1="276.7" x2="227.7" y2="284.3" stroke="#2e2e2e" stroke-width="1.2" />
<text x="263.0" y="278.4" font-size="8.6" text-anchor="start" fill="#e5502e" font-weight="bold" textLength="37.4" lengthAdjust="spacingAndGlyphs" >G2/M 22%</text>
<line x1="268.1" y1="284.2" x2="289.3" y2="284.2" stroke="#2e2e2e" stroke-width="1.3" />
<line x1="268.1" y1="280.3" x2="268.1" y2="288.09999999999997" stroke="#2e2e2e" stroke-width="1.2" />
<line x1="289.3" y1="280.3" x2="289.3" y2="288.09999999999997" stroke="#2e2e2e" stroke-width="1.2" />
<rect x="361.2" y="224.6" width="156.40000000000003" height="101.6" fill="none" stroke="#8a8a8a" stroke-width="1"/>
<line x1="359.0" y1="227.8" x2="361.2" y2="227.8" stroke="#777" stroke-width="0.8" />
<line x1="360.2" y1="236.20000000000002" x2="361.2" y2="236.20000000000002" stroke="#999" stroke-width="0.8" />
<line x1="360.2" y1="244.60000000000002" x2="361.2" y2="244.60000000000002" stroke="#999" stroke-width="0.8" />
<line x1="360.2" y1="253.00000000000003" x2="361.2" y2="253.00000000000003" stroke="#999" stroke-width="0.8" />
<line x1="359.0" y1="261.40000000000003" x2="361.2" y2="261.40000000000003" stroke="#777" stroke-width="0.8" />
<line x1="360.2" y1="269.8" x2="361.2" y2="269.8" stroke="#999" stroke-width="0.8" />
<line x1="360.2" y1="278.2" x2="361.2" y2="278.2" stroke="#999" stroke-width="0.8" />
<line x1="360.2" y1="286.59999999999997" x2="361.2" y2="286.59999999999997" stroke="#999" stroke-width="0.8" />
<line x1="359.0" y1="294.99999999999994" x2="361.2" y2="294.99999999999994" stroke="#777" stroke-width="0.8" />
<line x1="360.2" y1="303.3999999999999" x2="361.2" y2="303.3999999999999" stroke="#999" stroke-width="0.8" />
<line x1="360.2" y1="311.7999999999999" x2="361.2" y2="311.7999999999999" stroke="#999" stroke-width="0.8" />
<line x1="360.2" y1="320.1999999999999" x2="361.2" y2="320.1999999999999" stroke="#999" stroke-width="0.8" />
<line x1="362.2" y1="326.2" x2="362.2" y2="328.4" stroke="#999" stroke-width="0.7" />
<line x1="365.28" y1="326.2" x2="365.28" y2="327.4" stroke="#999" stroke-width="0.7" />
<line x1="368.35999999999996" y1="326.2" x2="368.35999999999996" y2="327.4" stroke="#999" stroke-width="0.7" />
<line x1="371.43999999999994" y1="326.2" x2="371.43999999999994" y2="327.4" stroke="#999" stroke-width="0.7" />
<line x1="374.5199999999999" y1="326.2" x2="374.5199999999999" y2="327.4" stroke="#999" stroke-width="0.7" />
<line x1="377.5999999999999" y1="326.2" x2="377.5999999999999" y2="328.4" stroke="#999" stroke-width="0.7" />
<line x1="380.6799999999999" y1="326.2" x2="380.6799999999999" y2="327.4" stroke="#999" stroke-width="0.7" />
<line x1="383.7599999999999" y1="326.2" x2="383.7599999999999" y2="327.4" stroke="#999" stroke-width="0.7" />
<line x1="386.83999999999986" y1="326.2" x2="386.83999999999986" y2="327.4" stroke="#999" stroke-width="0.7" />
<line x1="389.91999999999985" y1="326.2" x2="389.91999999999985" y2="327.4" stroke="#999" stroke-width="0.7" />
<line x1="392.99999999999983" y1="326.2" x2="392.99999999999983" y2="328.4" stroke="#999" stroke-width="0.7" />
<line x1="396.0799999999998" y1="326.2" x2="396.0799999999998" y2="327.4" stroke="#999" stroke-width="0.7" />
<line x1="399.1599999999998" y1="326.2" x2="399.1599999999998" y2="327.4" stroke="#999" stroke-width="0.7" />
<line x1="402.2399999999998" y1="326.2" x2="402.2399999999998" y2="327.4" stroke="#999" stroke-width="0.7" />
<line x1="405.31999999999977" y1="326.2" x2="405.31999999999977" y2="327.4" stroke="#999" stroke-width="0.7" />
<line x1="408.39999999999975" y1="326.2" x2="408.39999999999975" y2="328.4" stroke="#999" stroke-width="0.7" />
<line x1="411.47999999999973" y1="326.2" x2="411.47999999999973" y2="327.4" stroke="#999" stroke-width="0.7" />
<line x1="414.5599999999997" y1="326.2" x2="414.5599999999997" y2="327.4" stroke="#999" stroke-width="0.7" />
<line x1="417.6399999999997" y1="326.2" x2="417.6399999999997" y2="327.4" stroke="#999" stroke-width="0.7" />
<line x1="420.7199999999997" y1="326.2" x2="420.7199999999997" y2="327.4" stroke="#999" stroke-width="0.7" />
<line x1="423.79999999999967" y1="326.2" x2="423.79999999999967" y2="328.4" stroke="#999" stroke-width="0.7" />
<line x1="426.87999999999965" y1="326.2" x2="426.87999999999965" y2="327.4" stroke="#999" stroke-width="0.7" />
<line x1="429.95999999999964" y1="326.2" x2="429.95999999999964" y2="327.4" stroke="#999" stroke-width="0.7" />
<line x1="433.0399999999996" y1="326.2" x2="433.0399999999996" y2="327.4" stroke="#999" stroke-width="0.7" />
<line x1="436.1199999999996" y1="326.2" x2="436.1199999999996" y2="327.4" stroke="#999" stroke-width="0.7" />
<line x1="439.1999999999996" y1="326.2" x2="439.1999999999996" y2="328.4" stroke="#999" stroke-width="0.7" />
<line x1="442.2799999999996" y1="326.2" x2="442.2799999999996" y2="327.4" stroke="#999" stroke-width="0.7" />
<line x1="445.35999999999956" y1="326.2" x2="445.35999999999956" y2="327.4" stroke="#999" stroke-width="0.7" />
<line x1="448.43999999999954" y1="326.2" x2="448.43999999999954" y2="327.4" stroke="#999" stroke-width="0.7" />
<line x1="451.5199999999995" y1="326.2" x2="451.5199999999995" y2="327.4" stroke="#999" stroke-width="0.7" />
<line x1="454.5999999999995" y1="326.2" x2="454.5999999999995" y2="328.4" stroke="#999" stroke-width="0.7" />
<line x1="457.6799999999995" y1="326.2" x2="457.6799999999995" y2="327.4" stroke="#999" stroke-width="0.7" />
<line x1="460.7599999999995" y1="326.2" x2="460.7599999999995" y2="327.4" stroke="#999" stroke-width="0.7" />
<line x1="463.83999999999946" y1="326.2" x2="463.83999999999946" y2="327.4" stroke="#999" stroke-width="0.7" />
<line x1="466.91999999999945" y1="326.2" x2="466.91999999999945" y2="327.4" stroke="#999" stroke-width="0.7" />
<line x1="469.99999999999943" y1="326.2" x2="469.99999999999943" y2="328.4" stroke="#999" stroke-width="0.7" />
<line x1="473.0799999999994" y1="326.2" x2="473.0799999999994" y2="327.4" stroke="#999" stroke-width="0.7" />
<line x1="476.1599999999994" y1="326.2" x2="476.1599999999994" y2="327.4" stroke="#999" stroke-width="0.7" />
<line x1="479.2399999999994" y1="326.2" x2="479.2399999999994" y2="327.4" stroke="#999" stroke-width="0.7" />
<line x1="482.31999999999937" y1="326.2" x2="482.31999999999937" y2="327.4" stroke="#999" stroke-width="0.7" />
<line x1="485.39999999999935" y1="326.2" x2="485.39999999999935" y2="328.4" stroke="#999" stroke-width="0.7" />
<line x1="488.47999999999934" y1="326.2" x2="488.47999999999934" y2="327.4" stroke="#999" stroke-width="0.7" />
<line x1="491.5599999999993" y1="326.2" x2="491.5599999999993" y2="327.4" stroke="#999" stroke-width="0.7" />
<line x1="494.6399999999993" y1="326.2" x2="494.6399999999993" y2="327.4" stroke="#999" stroke-width="0.7" />
<line x1="497.7199999999993" y1="326.2" x2="497.7199999999993" y2="327.4" stroke="#999" stroke-width="0.7" />
<line x1="500.7999999999993" y1="326.2" x2="500.7999999999993" y2="328.4" stroke="#999" stroke-width="0.7" />
<line x1="503.87999999999926" y1="326.2" x2="503.87999999999926" y2="327.4" stroke="#999" stroke-width="0.7" />
<line x1="506.95999999999924" y1="326.2" x2="506.95999999999924" y2="327.4" stroke="#999" stroke-width="0.7" />
<line x1="510.0399999999992" y1="326.2" x2="510.0399999999992" y2="327.4" stroke="#999" stroke-width="0.7" />
<line x1="513.1199999999992" y1="326.2" x2="513.1199999999992" y2="327.4" stroke="#999" stroke-width="0.7" />
<line x1="516.1999999999992" y1="326.2" x2="516.1999999999992" y2="328.4" stroke="#999" stroke-width="0.7" />
<path d="M364.5,225.0 L364.6,240.0 L364.9,250.0 L365.4,262.0 L366.0,272.0 L367.0,281.5 L368.3,290.0 L369.5,295.0 L370.8,299.6 L372.8,304.2 L374.5,308.5 L376.2,312.3 L378.0,315.2 L380.2,317.7 L382.0,319.5 L384.2,321.0 L386.8,322.3 L389.6,323.3 L392.0,323.9 L395.0,324.4 L399.0,324.1 L401.0,322.4 L402.5,320.8 L403.7,319.0 L405.0,317.0 L406.4,315.3 L407.3,314.5 L408.2,314.3 L409.3,315.3 L410.5,317.0 L411.8,318.8 L413.2,320.1 L417.9,320.1 L420.0,319.4 L426.9,318.8 L432.7,317.7 L435.6,317.1 L438.5,314.2 L441.3,310.2 L444.2,306.2 L446.5,305.0 L448.8,304.4 L451.4,303.8 L453.5,306.2 L455.8,310.8 L458.7,317.1 L461.5,320.6 L465.0,322.9 L469.6,324.0 L475.4,324.6 L480.0,325.0 L516.5,325.2" fill="none" stroke="#3c3c3c" stroke-width="0.95" stroke-linejoin="round"/>
<text x="390.5" y="241.8" font-size="8.6" text-anchor="start" fill="#e5502e" font-weight="bold" textLength="37.3" lengthAdjust="spacingAndGlyphs" >G0/G1 5%</text>
<line x1="400.9" y1="246.8" x2="417.9" y2="246.8" stroke="#2e2e2e" stroke-width="1.3" />
<line x1="400.9" y1="242.9" x2="400.9" y2="250.70000000000002" stroke="#2e2e2e" stroke-width="1.2" />
<line x1="417.9" y1="242.9" x2="417.9" y2="250.70000000000002" stroke="#2e2e2e" stroke-width="1.2" />
<text x="418.1" y="258.9" font-size="8.6" text-anchor="start" fill="#dc2a36" font-weight="bold" textLength="23.1" lengthAdjust="spacingAndGlyphs" >S 15%</text>
<line x1="418.1" y1="263.4" x2="441.9" y2="263.4" stroke="#2e2e2e" stroke-width="1.3" />
<line x1="418.1" y1="259.7" x2="418.1" y2="267.09999999999997" stroke="#2e2e2e" stroke-width="1.2" />
<line x1="441.9" y1="259.7" x2="441.9" y2="267.09999999999997" stroke="#2e2e2e" stroke-width="1.2" />
<text x="362.2" y="276.0" font-size="8.6" text-anchor="start" fill="#dc2a36" font-weight="bold" textLength="46.6" lengthAdjust="spacingAndGlyphs" >sub-G0 65%</text>
<line x1="361.6" y1="280.6" x2="400.9" y2="280.6" stroke="#2e2e2e" stroke-width="1.3" />
<line x1="361.6" y1="276.8" x2="361.6" y2="284.40000000000003" stroke="#2e2e2e" stroke-width="1.2" />
<line x1="400.9" y1="276.8" x2="400.9" y2="284.40000000000003" stroke="#2e2e2e" stroke-width="1.2" />
<text x="436.0" y="278.6" font-size="8.6" text-anchor="start" fill="#dc2a36" font-weight="bold" textLength="33.2" lengthAdjust="spacingAndGlyphs" >G2/M 8%</text>
<line x1="441.1" y1="284.3" x2="463.0" y2="284.3" stroke="#2e2e2e" stroke-width="1.3" />
<line x1="441.1" y1="280.40000000000003" x2="441.1" y2="288.2" stroke="#2e2e2e" stroke-width="1.2" />
<line x1="463.0" y1="280.40000000000003" x2="463.0" y2="288.2" stroke="#2e2e2e" stroke-width="1.2" />
<text transform="translate(10.6,275.6) rotate(-90)" x="0" y="0" font-size="10.2" text-anchor="middle" fill="#000" font-weight="bold" textLength="46.4" lengthAdjust="spacingAndGlyphs">cell count</text>
<text transform="translate(184.6,275.6) rotate(-90)" x="0" y="0" font-size="10.2" text-anchor="middle" fill="#000" font-weight="bold" textLength="46.4" lengthAdjust="spacingAndGlyphs">cell count</text>
<text transform="translate(357.9,275.6) rotate(-90)" x="0" y="0" font-size="10.2" text-anchor="middle" fill="#000" font-weight="bold" textLength="46.4" lengthAdjust="spacingAndGlyphs">cell count</text>
<text x="62.7" y="338.6" font-size="10" text-anchor="start" fill="#000" font-weight="bold" textLength="60.5" lengthAdjust="spacingAndGlyphs" >DNA content</text>
<text x="236.5" y="338.6" font-size="10" text-anchor="start" fill="#000" font-weight="bold" textLength="60.5" lengthAdjust="spacingAndGlyphs" >DNA content</text>
<text x="411.0" y="338.6" font-size="10" text-anchor="start" fill="#000" font-weight="bold" textLength="60.5" lengthAdjust="spacingAndGlyphs" >DNA content</text>
<text x="-0.1" y="372.2" font-size="16.3" text-anchor="start" fill="#000" font-weight="normal" stroke="#000" stroke-width="0.5">C</text>
<text x="72.5" y="369.4" font-size="12" text-anchor="start" fill="#000" font-weight="bold" textLength="226.5" lengthAdjust="spacingAndGlyphs" >DNA fragmentation (comet assay)</text>
<line x1="58.3" y1="378.5" x2="58.3" y2="523" stroke="#000" stroke-width="1.0" />
<line x1="57.5" y1="522.6" x2="296" y2="522.6" stroke="#000" stroke-width="1.2" />
<line x1="56.5" y1="378.5" x2="58.3" y2="378.5" stroke="#000" stroke-width="1.0" />
<line x1="56.5" y1="396.5" x2="58.3" y2="396.5" stroke="#000" stroke-width="1.0" />
<line x1="56.5" y1="414.5" x2="58.3" y2="414.5" stroke="#000" stroke-width="1.0" />
<line x1="56.5" y1="432.5" x2="58.3" y2="432.5" stroke="#000" stroke-width="1.0" />
<line x1="56.5" y1="450.5" x2="58.3" y2="450.5" stroke="#000" stroke-width="1.0" />
<line x1="56.5" y1="468.5" x2="58.3" y2="468.5" stroke="#000" stroke-width="1.0" />
<line x1="56.5" y1="486.5" x2="58.3" y2="486.5" stroke="#000" stroke-width="1.0" />
<line x1="56.5" y1="504.5" x2="58.3" y2="504.5" stroke="#000" stroke-width="1.0" />
<line x1="56.5" y1="522.5" x2="58.3" y2="522.5" stroke="#000" stroke-width="1.0" />
<text x="51.2" y="377.1" font-size="10.3" text-anchor="end" fill="#000" font-weight="bold" >80</text>
<text x="51.2" y="396.40000000000003" font-size="10.3" text-anchor="end" fill="#000" font-weight="bold" >70</text>
<text x="51.2" y="417.0" font-size="10.3" text-anchor="end" fill="#000" font-weight="bold" >60</text>
<text x="51.2" y="436.90000000000003" font-size="10.3" text-anchor="end" fill="#000" font-weight="bold" >50</text>
<text x="51.2" y="457.6" font-size="10.3" text-anchor="end" fill="#000" font-weight="bold" >40</text>
<text x="51.2" y="477.0" font-size="10.3" text-anchor="end" fill="#000" font-weight="bold" >30</text>
<text x="51.2" y="496.6" font-size="10.3" text-anchor="end" fill="#000" font-weight="bold" >20</text>
<text x="51.2" y="518.0" font-size="10.3" text-anchor="end" fill="#000" font-weight="bold" >10</text>
<text x="51.2" y="536.6" font-size="10.3" text-anchor="end" fill="#000" font-weight="bold" >0</text>
<line x1="58.4" y1="522.6" x2="58.4" y2="526.5" stroke="#000" stroke-width="1.0" />
<line x1="117.4" y1="522.6" x2="117.4" y2="526.5" stroke="#000" stroke-width="1.0" />
<line x1="176.8" y1="522.6" x2="176.8" y2="526.5" stroke="#000" stroke-width="1.0" />
<line x1="235.7" y1="522.6" x2="235.7" y2="526.5" stroke="#000" stroke-width="1.0" />
<line x1="294.8" y1="522.6" x2="294.8" y2="526.5" stroke="#000" stroke-width="1.0" />
<text x="57.9" y="549.8" font-size="10" text-anchor="middle" fill="#000" font-weight="bold" >0</text>
<text x="116.7" y="549.8" font-size="10" text-anchor="middle" fill="#000" font-weight="bold" >1</text>
<text x="176.1" y="549.8" font-size="10" text-anchor="middle" fill="#000" font-weight="bold" >2.5</text>
<text x="233.9" y="549.8" font-size="10" text-anchor="middle" fill="#000" font-weight="bold" >5</text>
<text x="292.2" y="549.8" font-size="10" text-anchor="middle" fill="#000" font-weight="bold" >10</text>
<text x="186.3" y="561.5" font-size="11.5" text-anchor="middle" fill="#000" font-weight="bold" textLength="61" lengthAdjust="spacingAndGlyphs" >CA4P (nM)</text>
<text transform="translate(27.4,448.9) rotate(-90)" x="0" y="0" font-size="10.4" text-anchor="middle" fill="#000" font-weight="bold" textLength="168" lengthAdjust="spacingAndGlyphs">Number of cells with a comet (%)</text>
<polyline points="58.4,516.2 117.4,514.3 176.8,488.5 235.7,457.5 294.8,435.5" fill="none" stroke="#dea272" stroke-width="1.2" stroke-linejoin="round"/>
<polyline points="58.4,505.3 117.4,504.5 176.8,500.7 235.7,486.8 294.8,445.6" fill="none" stroke="#34a060" stroke-width="1.4" stroke-linejoin="round"/>
<polyline points="58.4,496.3 117.4,494.2 176.8,468.3 235.7,464.7 294.8,433.6" fill="none" stroke="#3a8db5" stroke-width="1.2" stroke-linejoin="round"/>
<polyline points="58.4,495.5 117.4,492.5 176.8,479.6 235.7,436.8 294.8,414.5" fill="none" stroke="#e8ee78" stroke-width="1.4" stroke-linejoin="round"/>
<polyline points="58.4,497.5 117.4,495.8 176.8,457.6 235.7,443.2 294.8,425.7" fill="none" stroke="#e01a1a" stroke-width="2.0" stroke-linejoin="round"/>
<polyline points="58.4,493.4 117.4,486.8 176.8,457.0 235.7,438.4 294.8,409.0" fill="none" stroke="#2a22b8" stroke-width="1.5" stroke-linejoin="round"/>
<polyline points="58.4,498.8 117.4,483.4 176.8,476.8 235.7,459.1 294.8,424.6" fill="none" stroke="#000" stroke-width="1.9" stroke-linejoin="round"/>
<line x1="58.4" y1="489.5" x2="58.4" y2="509" stroke="#7a7a7a" stroke-width="0.9" />
<line x1="56.8" y1="489.5" x2="60.0" y2="489.5" stroke="#7a7a7a" stroke-width="0.9" />
<line x1="56.8" y1="509" x2="60.0" y2="509" stroke="#7a7a7a" stroke-width="0.9" />
<line x1="117.4" y1="478.5" x2="117.4" y2="509" stroke="#7a7a7a" stroke-width="0.9" />
<line x1="115.80000000000001" y1="478.5" x2="119.0" y2="478.5" stroke="#7a7a7a" stroke-width="0.9" />
<line x1="115.80000000000001" y1="509" x2="119.0" y2="509" stroke="#7a7a7a" stroke-width="0.9" />
<line x1="176.8" y1="447.7" x2="176.8" y2="482" stroke="#7a7a7a" stroke-width="0.9" />
<line x1="175.20000000000002" y1="447.7" x2="178.4" y2="447.7" stroke="#7a7a7a" stroke-width="0.9" />
<line x1="175.20000000000002" y1="482" x2="178.4" y2="482" stroke="#7a7a7a" stroke-width="0.9" />
<line x1="176.8" y1="484" x2="176.8" y2="504" stroke="#7a7a7a" stroke-width="0.9" />
<line x1="175.20000000000002" y1="484" x2="178.4" y2="484" stroke="#7a7a7a" stroke-width="0.9" />
<line x1="175.20000000000002" y1="504" x2="178.4" y2="504" stroke="#7a7a7a" stroke-width="0.9" />
<line x1="235.7" y1="427.3" x2="235.7" y2="468.6" stroke="#7a7a7a" stroke-width="0.9" />
<line x1="234.1" y1="427.3" x2="237.29999999999998" y2="427.3" stroke="#7a7a7a" stroke-width="0.9" />
<line x1="234.1" y1="468.6" x2="237.29999999999998" y2="468.6" stroke="#7a7a7a" stroke-width="0.9" />
<line x1="235.7" y1="482" x2="235.7" y2="491" stroke="#7a7a7a" stroke-width="0.9" />
<line x1="234.1" y1="482" x2="237.29999999999998" y2="482" stroke="#7a7a7a" stroke-width="0.9" />
<line x1="234.1" y1="491" x2="237.29999999999998" y2="491" stroke="#7a7a7a" stroke-width="0.9" />
<line x1="294.8" y1="392.3" x2="294.8" y2="448.7" stroke="#7a7a7a" stroke-width="0.9" />
<line x1="293.2" y1="392.3" x2="296.40000000000003" y2="392.3" stroke="#7a7a7a" stroke-width="0.9" />
<line x1="293.2" y1="448.7" x2="296.40000000000003" y2="448.7" stroke="#7a7a7a" stroke-width="0.9" />
<rect x="57.0" y="490.5" width="2.8" height="17.8" fill="#000"/>
<rect x="116.0" y="490.0" width="2.8" height="8.7" fill="#000"/>
<rect x="115.9" y="501.0" width="3.0" height="6.5" fill="#000"/>
<rect x="115.4" y="479.2" width="4" height="3.2" fill="#8a8a8a"/>
<rect x="175.3" y="453.4" width="3.0" height="7.1" fill="#000"/>
<rect x="175.4" y="466.0" width="2.8" height="6.5" fill="#000"/>
<rect x="175.4" y="475.3" width="2.8" height="5.0" fill="#000"/>
<rect x="175.2" y="497.3" width="3.2" height="6.4" fill="#000"/>
<rect x="234.2" y="434.4" width="3.0" height="12.8" fill="#000"/>
<rect x="234.3" y="455.9" width="2.8" height="11.1" fill="#000"/>
<rect x="234.1" y="483.0" width="3.2" height="7.1" fill="#000"/>
<rect x="293.4" y="409.8" width="2.8" height="5.5" fill="#000"/>
<rect x="293.2" y="420.1" width="3.2" height="8.8" fill="#000"/>
<rect x="293.4" y="430.5" width="2.8" height="6.3" fill="#000"/>
<rect x="293.3" y="440.0" width="3.0" height="6.4" fill="#000"/>
<path d="M56.4,516.2 L58.4,512.6 L60.4,516.2 L58.4,519.8Z" fill="#000"/>
<path d="M115.4,513.8 L117.4,510.2 L119.4,513.8 L117.4,517.4Z" fill="#000"/>
<path d="M174.8,488.5 L176.8,484.9 L178.8,488.5 L176.8,492.1Z" fill="#000"/>
<path d="M293.0,404.2 L296.6,407.6 M296.6,404.2 L293.0,407.6" stroke="#888" stroke-width="1"/>
<path d="M176.80,440.00 L176.80,436.90 M176.80,440.00 L179.75,439.04 M176.80,440.00 L178.62,442.51 M176.80,440.00 L174.98,442.51 M176.80,440.00 L173.85,439.04 " stroke="#000" stroke-width="1.90" stroke-linecap="round" fill="none"/>
<path d="M235.40,418.70 L235.40,415.60 M235.40,418.70 L238.35,417.74 M235.40,418.70 L237.22,421.21 M235.40,418.70 L233.58,421.21 M235.40,418.70 L232.45,417.74 " stroke="#000" stroke-width="1.90" stroke-linecap="round" fill="none"/>
<path d="M294.60,383.30 L294.60,380.20 M294.60,383.30 L297.55,382.34 M294.60,383.30 L296.42,385.81 M294.60,383.30 L292.78,385.81 M294.60,383.30 L291.65,382.34 " stroke="#000" stroke-width="1.90" stroke-linecap="round" fill="none"/>
<line x1="327.4" y1="403.2" x2="364.2" y2="403.2" stroke="#2a22b8" stroke-width="1.3" />
<path d="M343.5,400.6 L348.7,405.8 M348.7,400.6 L343.5,405.8" stroke="#000" stroke-width="1.4" fill="none"/>
<text x="379.8" y="406.8" font-size="8.8" text-anchor="middle" fill="#000" font-weight="bold" >U937</text>
<line x1="327.4" y1="418.2" x2="364.2" y2="418.2" stroke="#e8ee78" stroke-width="1.2" />
<path d="M342.9,420.8 L346.1,415.6 L349.3,420.8Z" fill="#000"/>
<text x="379.8" y="421.8" font-size="8.8" text-anchor="middle" fill="#000" font-weight="bold" >HL60</text>
<line x1="327.4" y1="433.1" x2="364.2" y2="433.1" stroke="#e01a1a" stroke-width="1.8" />
<rect x="344.1" y="431.1" width="4.0" height="2.4" fill="#000"/>
<text x="379.8" y="436.70000000000005" font-size="8.8" text-anchor="middle" fill="#000" font-weight="bold" >HEL</text>
<line x1="327.4" y1="448.4" x2="364.2" y2="448.4" stroke="#000" stroke-width="2.0" />
<rect x="343.8" y="446.4" width="4.6" height="4.0" fill="none" stroke="#000" stroke-width="1.1"/>
<text x="379.8" y="452.0" font-size="8.8" text-anchor="middle" fill="#000" font-weight="bold" >KG1</text>
<line x1="327.4" y1="462.8" x2="364.2" y2="462.8" stroke="#2f82a0" stroke-width="1.1" />
<circle cx="346.1" cy="462.8" r="2.8" fill="#000"/>
<text x="379.8" y="466.40000000000003" font-size="8.8" text-anchor="middle" fill="#000" font-weight="bold" >R81</text>
<line x1="327.4" y1="478.1" x2="364.2" y2="478.1" stroke="#d2a682" stroke-width="1.1" />
<path d="M343.1,478.1 L346.1,475.1 L349.1,478.1 L346.1,481.1Z" fill="#000"/>
<text x="379.8" y="481.70000000000005" font-size="8.8" text-anchor="middle" fill="#000" font-weight="bold" >Thp1</text>
<line x1="327.4" y1="494.1" x2="364.2" y2="494.1" stroke="#2a8f58" stroke-width="1.3" />
<rect x="343.5" y="491.8" width="5.2" height="4.6" fill="#000"/>
<text x="379.8" y="497.70000000000005" font-size="8.8" text-anchor="middle" fill="#000" font-weight="bold" >KG1a</text>
</svg></body></html>
